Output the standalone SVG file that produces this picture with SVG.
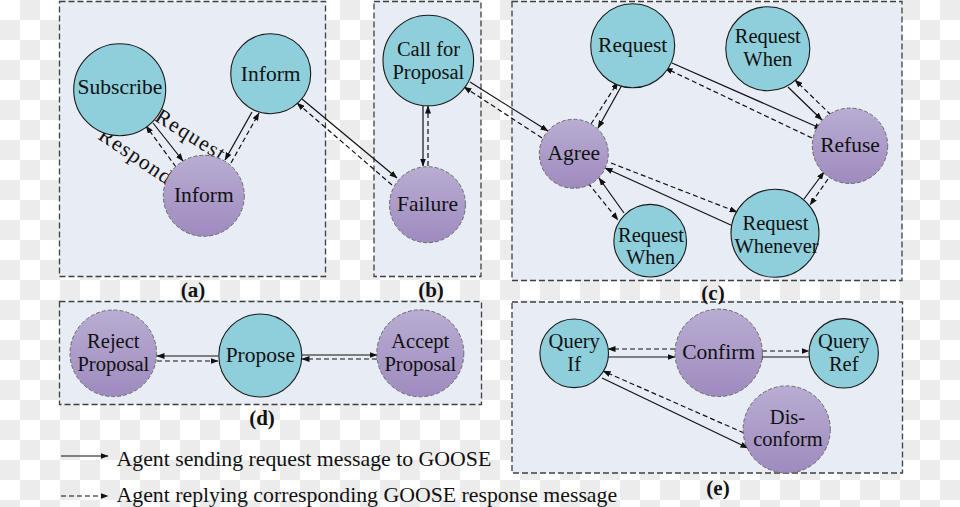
<svg xmlns="http://www.w3.org/2000/svg" width="960" height="507" viewBox="0 0 960 507">
<defs>
<pattern id="chk" width="40" height="40" patternUnits="userSpaceOnUse">
<rect width="40" height="40" fill="#ffffff"/>
<rect x="20" y="0" width="20" height="20" fill="#ececec"/>
<rect x="0" y="20" width="20" height="20" fill="#ececec"/>
</pattern>
<linearGradient id="pg" x1="0" y1="0" x2="0" y2="1">
<stop offset="0" stop-color="#b8add2"/>
<stop offset="1" stop-color="#9f8bbf"/>
</linearGradient>
<marker id="ah" markerWidth="8" markerHeight="6" refX="7.5" refY="3" orient="auto" markerUnits="userSpaceOnUse">
<path d="M0,0 L8,3 L0,6 z" fill="#111"/>
</marker>
</defs>
<style>
.panel{fill:#e8ecf4;stroke:#3f3f3f;stroke-width:1.3;stroke-dasharray:6,3}
.t{fill:#8fcfdb;stroke:#1a1a1a;stroke-width:1.1}
.p{fill:url(#pg);stroke:#6a6a6a;stroke-width:1;stroke-dasharray:4,2}
.lbl{font-family:"Liberation Serif","Times New Roman",serif;font-size:21.5px;fill:#111;text-anchor:middle}
.ml{font-family:"Liberation Serif","Times New Roman",serif;font-size:20.5px;fill:#111;text-anchor:middle}
.cap{font-family:"Liberation Serif","Times New Roman",serif;font-size:21px;font-weight:bold;fill:#111;text-anchor:middle}
.leg{font-family:"Liberation Serif","Times New Roman",serif;font-size:21.8px;fill:#111}
.s{stroke:#111;stroke-width:1.2;fill:none;marker-end:url(#ah)}
.d{stroke:#111;stroke-width:1.2;fill:none;stroke-dasharray:5,3;marker-end:url(#ah)}
</style>
<rect width="960" height="507" fill="url(#chk)"/>

<g id="panels">
<rect class="panel" x="59.5" y="1.5" width="266" height="275"/>
<rect class="panel" x="374" y="1.5" width="107" height="275"/>
<rect class="panel" x="512" y="1.5" width="390" height="279"/>
<rect class="panel" x="59.5" y="301.5" width="422" height="103"/>
<rect class="panel" x="512" y="302" width="390.5" height="171"/>
</g>

<g id="captions">
<text class="cap" x="193" y="297">(a)</text>
<text class="cap" x="431" y="297">(b)</text>
<text class="cap" x="713" y="300">(c)</text>
<text class="cap" x="262" y="425">(d)</text>
<text class="cap" x="718" y="495">(e)</text>
</g>

<g id="connectors">
<line class="s" x1="153" y1="123" x2="183" y2="161"/>
<line class="d" x1="176" y1="167" x2="146" y2="126"/>
<line class="s" x1="252" y1="112" x2="225" y2="160"/>
<line class="d" x1="231" y1="163" x2="259" y2="113"/>
<line class="s" x1="302" y1="99" x2="397" y2="178"/>
<line class="d" x1="392" y1="185" x2="297" y2="103"/>
<line class="s" x1="423" y1="106" x2="423" y2="166"/>
<line class="d" x1="428" y1="166" x2="428" y2="106"/>
<line class="s" x1="470" y1="82" x2="548" y2="131"/>
<line class="d" x1="542" y1="138" x2="464" y2="87"/>
<line class="s" x1="622" y1="85" x2="598" y2="128"/>
<line class="d" x1="591" y1="124" x2="618" y2="82"/>
<line class="s" x1="672" y1="63" x2="822" y2="129"/>
<line class="d" x1="812" y1="138" x2="665" y2="68"/>
<line class="s" x1="788" y1="87" x2="822" y2="120"/>
<line class="d" x1="831" y1="115" x2="795" y2="80"/>
<line class="s" x1="624" y1="213" x2="599" y2="178"/>
<line class="d" x1="588" y1="183" x2="618" y2="220"/>
<line class="d" x1="611" y1="163" x2="737" y2="212"/>
<line class="s" x1="733" y1="226" x2="605" y2="168"/>
<line class="s" x1="804" y1="199" x2="824" y2="172"/>
<line class="d" x1="828" y1="179" x2="810" y2="205"/>
<line class="s" x1="218" y1="356" x2="157" y2="356"/>
<line class="d" x1="157" y1="361" x2="218" y2="361"/>
<line class="s" x1="302" y1="355" x2="377" y2="355"/>
<line class="d" x1="377" y1="359" x2="302" y2="359"/>
<line class="d" x1="675" y1="349" x2="608" y2="349"/>
<line class="s" x1="608" y1="357" x2="675" y2="357"/>
<line class="d" x1="762" y1="351" x2="809" y2="351"/>
<line class="s" x1="809" y1="357" x2="755" y2="357"/>
<line class="d" x1="744" y1="433" x2="603" y2="371"/>
<line class="s" x1="602" y1="378" x2="748" y2="448"/>
<text class="lbl" letter-spacing="1.4" transform="translate(191,135) rotate(32)" y="7">Request</text>
<text class="lbl" letter-spacing="1.3" transform="translate(136,156) rotate(34)" y="7">Respond</text>
</g>

<g id="n-subscribe"><circle class="t" cx="119.7" cy="89.7" r="46"/><text class="lbl" x="120" y="94">Subscribe</text></g>
<g id="n-inform-top"><circle class="t" cx="270.7" cy="73.7" r="40"/><text class="lbl" x="270.7" y="81">Inform</text></g>
<g id="n-inform-bottom"><circle class="p" cx="203.8" cy="195.8" r="40.5"/><text class="lbl" x="203.8" y="202.3">Inform</text></g>

<g id="n-cfp"><circle class="t" cx="428.3" cy="60.5" r="45.3"/><text class="ml" x="428.5" y="56">Call for</text><text class="ml" x="428.3" y="79">Proposal</text></g>
<g id="n-failure"><circle class="p" cx="427.5" cy="204.7" r="38"/><text class="lbl" x="427.5" y="211">Failure</text></g>

<g id="n-request"><circle class="t" cx="632.7" cy="45.8" r="42"/><text class="lbl" x="632.7" y="52">Request</text></g>
<g id="n-request-when-top"><circle class="t" cx="767.8" cy="48.7" r="42"/><text class="ml" x="767.8" y="43">Request</text><text class="ml" x="767.8" y="66">When</text></g>
<g id="n-agree"><circle class="p" cx="573.8" cy="153.8" r="34.5"/><text class="lbl" x="573.8" y="159.5">Agree</text></g>
<g id="n-refuse"><circle class="p" cx="850" cy="145.8" r="37.7"/><text class="lbl" x="850" y="151.8">Refuse</text></g>
<g id="n-request-when-bottom"><circle class="t" cx="650.2" cy="240.7" r="36.3"/><text class="ml" x="651" y="242">Request</text><text class="ml" x="650.5" y="264">When</text></g>
<g id="n-request-whenever"><circle class="t" cx="775" cy="233.3" r="44"/><text class="ml" x="775.5" y="230">Request</text><text class="ml" x="776.5" y="252.5" font-size="20px">Whenever</text></g>

<g id="n-reject"><circle class="p" cx="113.3" cy="353.3" r="43.3"/><text class="ml" x="113.3" y="348">Reject</text><text class="ml" x="113.3" y="370.5">Proposal</text></g>
<g id="n-propose"><circle class="t" cx="260.3" cy="355.5" r="41.5"/><text class="lbl" x="260.3" y="361.7">Propose</text></g>
<g id="n-accept"><circle class="p" cx="420.3" cy="353.3" r="43.5"/><text class="ml" x="420.3" y="348">Accept</text><text class="ml" x="420.3" y="370.5">Proposal</text></g>

<g id="n-query-if"><circle class="t" cx="574.2" cy="353.3" r="34.3"/><text class="ml" x="574.2" y="348">Query</text><text class="ml" x="574.2" y="371">If</text></g>
<g id="n-confirm"><circle class="p" cx="718.7" cy="352.8" r="43.7"/><text class="lbl" x="718.7" y="358.5">Confirm</text></g>
<g id="n-query-ref"><circle class="t" cx="843.7" cy="353.3" r="34.7"/><text class="ml" x="843.7" y="348">Query</text><text class="ml" x="843.7" y="371">Ref</text></g>
<g id="n-disconform"><circle class="p" cx="786.7" cy="429.5" r="43.6"/><text class="ml" x="787.5" y="423.5">Dis-</text><text class="ml" x="788" y="445.5">conform</text></g>

<g id="legend">
<line class="s" x1="61" y1="456" x2="108" y2="456"/>
<line class="d" x1="61" y1="496" x2="108" y2="496"/>
<text class="leg" x="116.5" y="465.5">Agent sending request message to GOOSE</text>
<text class="leg" x="116.5" y="502">Agent replying corresponding GOOSE response message</text>
</g>
</svg>
